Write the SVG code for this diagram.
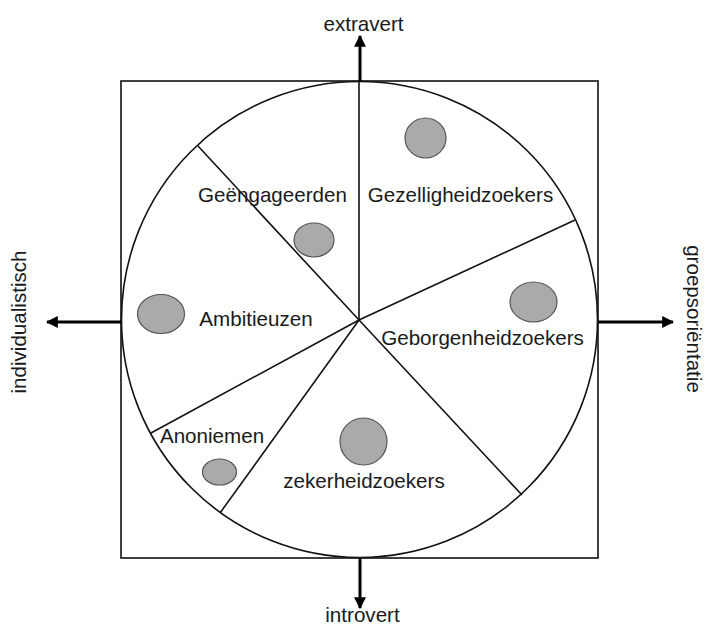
<svg xmlns="http://www.w3.org/2000/svg" width="705" height="625" viewBox="0 0 705 625">
<style>
.t{font-family:"Liberation Sans",Arial,sans-serif;font-size:20.6px;fill:#1a1a1a}
.ln{stroke:#111;stroke-width:1.6;fill:none}
.ax{stroke:#000;stroke-width:3;fill:none}
.dot{fill:#aaaaaa;stroke:#555;stroke-width:1.2}
</style>
<defs>
<marker id="ah" viewBox="0 0 10 10" refX="9" refY="5" markerWidth="4" markerHeight="4" orient="auto" markerUnits="strokeWidth">
<path d="M0,0 L10,5 L0,10 z" fill="#000"/>
</marker>
</defs>
<rect width="705" height="625" fill="#fff"/>
<g id="frame">
<rect x="121" y="81" width="477" height="477" class="ln" stroke-width="2"/>
<circle cx="359.5" cy="319.5" r="238" class="ln"/>
</g>
<g id="connectors">
<line x1="359" y1="320" x2="359" y2="81" class="ln"/>
<line x1="359" y1="320" x2="198" y2="146" class="ln"/>
<line x1="359" y1="320" x2="575" y2="220" class="ln"/>
<line x1="359" y1="320" x2="151" y2="433" class="ln"/>
<line x1="359" y1="320" x2="220" y2="513" class="ln"/>
<line x1="359" y1="320" x2="522" y2="495" class="ln"/>
<line x1="360" y1="81" x2="360" y2="36" class="ax" marker-end="url(#ah)"/>
<line x1="360" y1="558" x2="360" y2="608" class="ax" marker-end="url(#ah)"/>
<line x1="121" y1="322" x2="47" y2="322" class="ax" marker-end="url(#ah)"/>
<line x1="598" y1="322" x2="673" y2="322" class="ax" marker-end="url(#ah)"/>
</g>
<g id="extravert"><text class="t" x="363.5" y="31" text-anchor="middle">extravert</text></g>
<g id="introvert"><text class="t" x="362.5" y="622" text-anchor="middle">introvert</text></g>
<g id="individualistisch"><text class="t" transform="translate(26,322) rotate(-90)" text-anchor="middle">individualistisch</text></g>
<g id="groepsorientatie"><text class="t" transform="translate(687,319) rotate(90)" text-anchor="middle">groepsoriëntatie</text></g>
<g id="geengageerden">
<text class="t" x="272.5" y="202" text-anchor="middle">Geëngageerden</text>
<ellipse cx="314" cy="240" rx="20" ry="17" class="dot"/>
</g>
<g id="gezelligheidzoekers">
<text class="t" x="460.5" y="202" text-anchor="middle">Gezelligheidzoekers</text>
<ellipse cx="425.5" cy="138" rx="20.5" ry="20" class="dot"/>
</g>
<g id="ambitieuzen">
<text class="t" x="256" y="326" text-anchor="middle">Ambitieuzen</text>
<ellipse cx="161" cy="314" rx="23.5" ry="19.5" class="dot"/>
</g>
<g id="geborgenheidzoekers">
<text class="t" x="482.5" y="345" text-anchor="middle">Geborgenheidzoekers</text>
<ellipse cx="533.5" cy="302" rx="23.5" ry="20" class="dot"/>
</g>
<g id="zekerheidzoekers">
<text class="t" x="364" y="488" text-anchor="middle">zekerheidzoekers</text>
<ellipse cx="363.5" cy="441.5" rx="23.5" ry="23.5" class="dot"/>
</g>
<g id="anoniemen">
<text class="t" x="212" y="443" text-anchor="middle">Anoniemen</text>
<ellipse cx="219.5" cy="472" rx="17" ry="13" class="dot"/>
</g>
</svg>
